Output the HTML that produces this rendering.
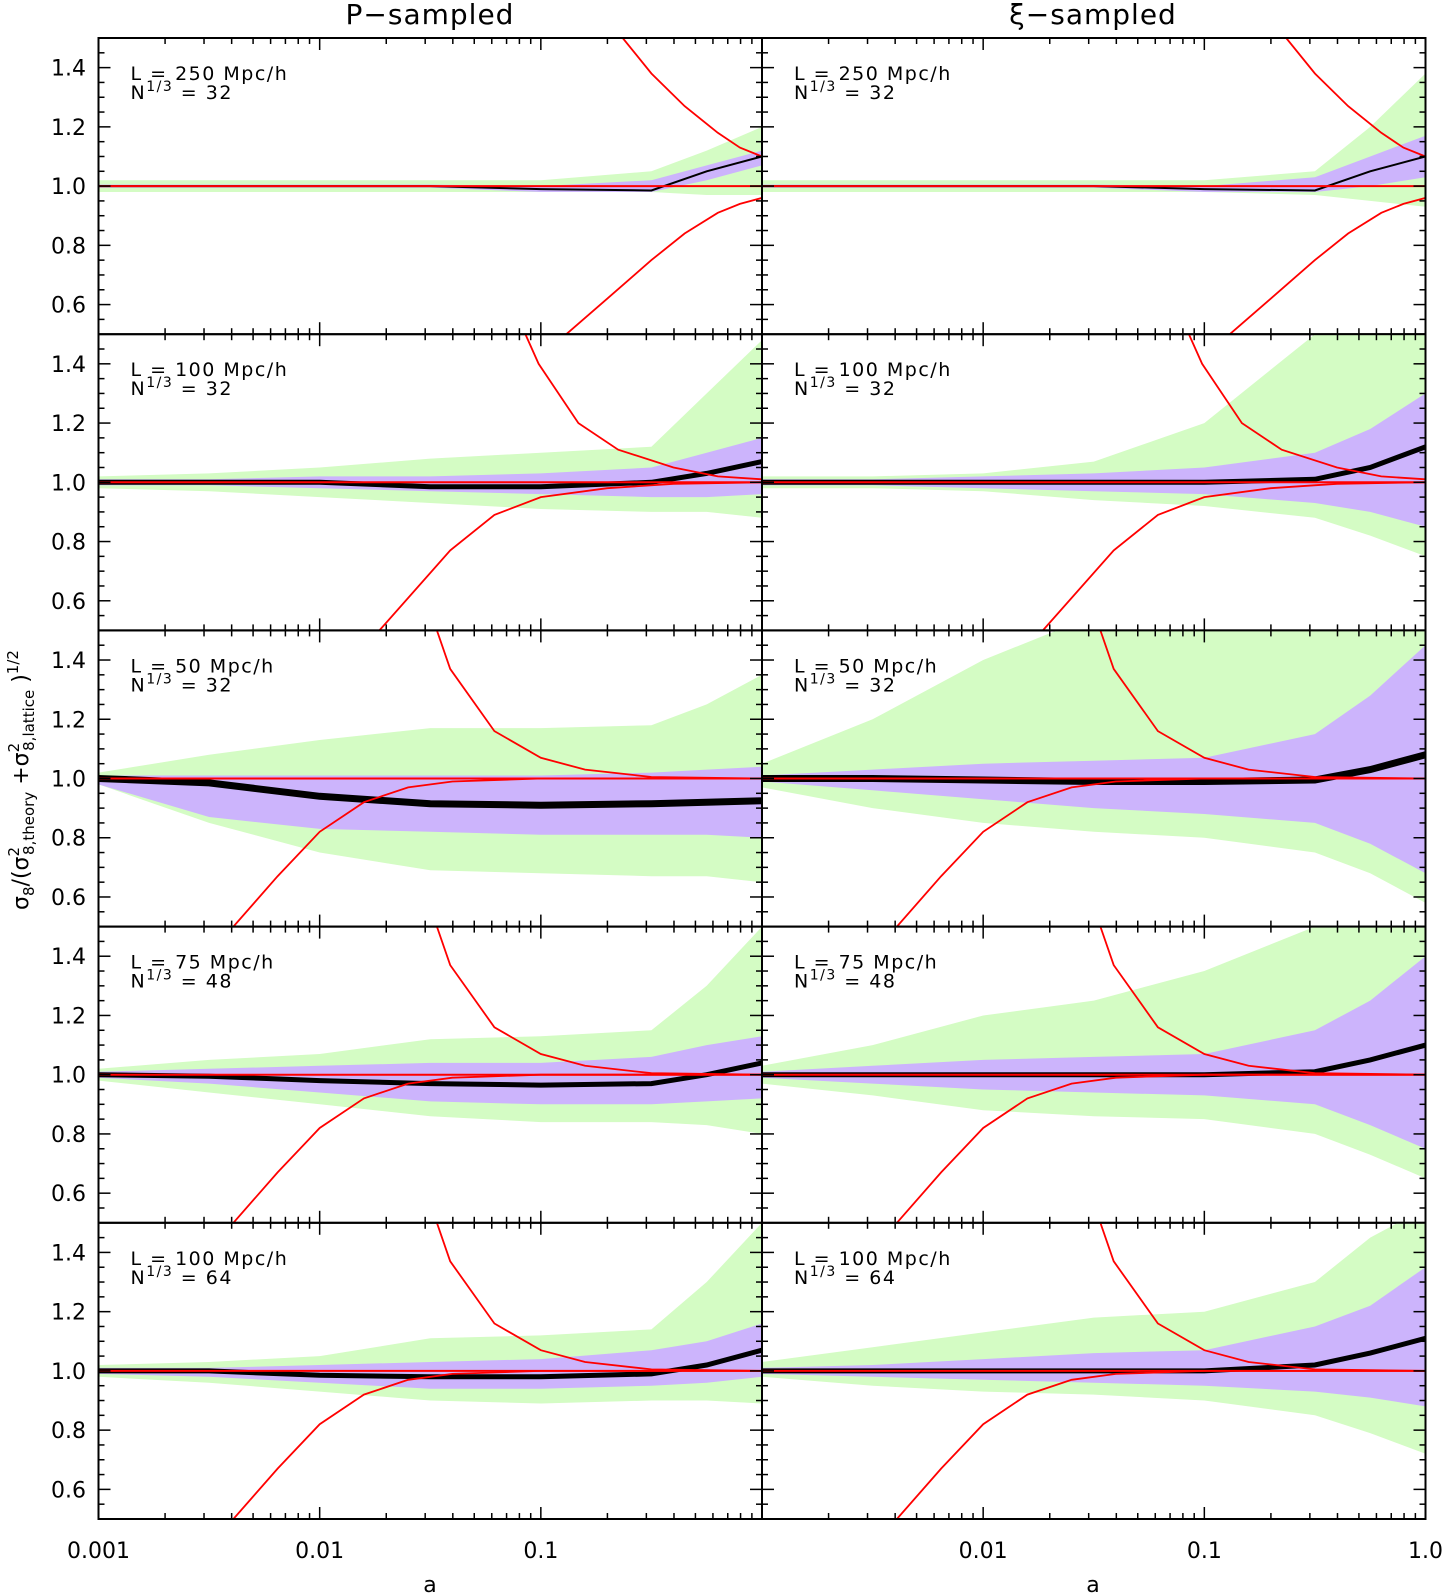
<!DOCTYPE html>
<html><head><meta charset="utf-8"><style>
body{margin:0;background:#fff}
svg{display:block;font-family:"DejaVu Sans","Liberation Sans",sans-serif}
</style></head><body>
<svg id="c" width="1443" height="1593" viewBox="0 0 1443 1593"></svg>
<script>
const logA=[-3,-2.5,-2,-1.5,-1,-0.5,-0.25,0];
const panelLabels=[["L = 250 Mpc/h","32"],["L = 100 Mpc/h","32"],["L = 50 Mpc/h","32"],["L = 75 Mpc/h","48"],["L = 100 Mpc/h","64"]];
const yTicks=[0.6,0.8,1.0,1.2,1.4];
const yTickLabels=["0.6","0.8","1.0","1.2","1.4"];
const xTicksLeft=[-3,-2,-1];
const xTickLabelsLeft=["0.001","0.01","0.1"];
const xTicksRight=[-2,-1,0];
const xTickLabelsRight=["0.01","0.1","1.0"];
// red theory curves: [logA, value]
const redUpA=[[-0.63,1.5],[-0.5,1.38],[-0.35,1.27],[-0.2,1.18],[-0.1,1.13],[0,1.1]];
const redLoA=[[-0.885,0.5],[-0.7,0.62],[-0.5,0.75],[-0.35,0.84],[-0.2,0.91],[-0.1,0.94],[0,0.96]];
const redUpB=[[-1.07,1.5],[-1.01,1.4],[-0.83,1.2],[-0.65,1.11],[-0.4,1.05],[-0.2,1.02],[0,1.01]];
const redLoB=[[-1.73,0.5],[-1.41,0.77],[-1.21,0.89],[-1.0,0.95],[-0.7,0.98],[-0.4,0.995],[0,1.0]];
const redUpC=[[-1.47,1.5],[-1.41,1.37],[-1.21,1.16],[-1.0,1.07],[-0.8,1.03],[-0.5,1.005],[0,1.0]];
const redLoC=[[-2.39,0.5],[-2.19,0.67],[-2.0,0.82],[-1.8,0.92],[-1.6,0.97],[-1.4,0.99],[-1.0,1.0],[0,1.0]];
// bands per panel (left P-sampled, right xi-sampled), values at logA
const gUpL=[[1.02,1.02,1.02,1.02,1.02,1.05,1.12,1.2],[1.02,1.03,1.05,1.08,1.1,1.12,1.3,1.48],[1.02,1.08,1.13,1.17,1.17,1.18,1.25,1.35],[1.02,1.05,1.07,1.12,1.13,1.15,1.3,1.5],[1.02,1.03,1.05,1.11,1.12,1.14,1.3,1.5]];
const gLoL=[[0.98,0.98,0.98,0.98,0.98,0.98,0.97,0.97],[0.98,0.97,0.95,0.93,0.91,0.9,0.9,0.88],[0.98,0.85,0.75,0.69,0.68,0.67,0.67,0.65],[0.98,0.94,0.9,0.86,0.84,0.84,0.83,0.8],[0.98,0.96,0.93,0.9,0.89,0.9,0.9,0.89]];
const pUpL=[[1.005,1.005,1.005,1.005,1.0,1.02,1.07,1.12],[1.01,1.01,1.02,1.02,1.03,1.05,1.1,1.15],[1.01,1.01,1.01,1.01,1.01,1.02,1.03,1.04],[1.01,1.02,1.03,1.04,1.04,1.06,1.1,1.13],[1.01,1.01,1.02,1.03,1.04,1.07,1.1,1.16]];
const pLoL=[[0.995,0.995,0.995,0.995,0.98,0.98,1.02,1.07],[0.99,0.99,0.98,0.97,0.96,0.95,0.95,0.96],[0.98,0.87,0.83,0.82,0.81,0.81,0.81,0.8],[0.99,0.97,0.94,0.91,0.9,0.9,0.91,0.92],[0.99,0.98,0.96,0.94,0.94,0.95,0.96,0.98]];
const meanL=[[1.0,1.0,1.0,1.0,0.99,0.985,1.05,1.1],[1.0,1.0,1.0,0.985,0.985,1.0,1.03,1.07],[1.0,0.985,0.94,0.915,0.91,0.915,0.92,0.925],[1.0,0.995,0.98,0.97,0.965,0.97,1.0,1.04],[1.0,1.0,0.985,0.98,0.98,0.99,1.02,1.07]];
const gUpR=[[1.02,1.02,1.02,1.02,1.02,1.05,1.2,1.38],[1.02,1.02,1.03,1.07,1.2,1.5,1.5,1.5],[1.05,1.2,1.4,1.55,1.55,1.55,1.55,1.55],[1.03,1.1,1.2,1.25,1.35,1.5,1.55,1.55],[1.03,1.08,1.13,1.18,1.2,1.3,1.45,1.55]];
const gLoR=[[0.98,0.98,0.98,0.98,0.98,0.97,0.95,0.93],[0.98,0.98,0.97,0.94,0.92,0.88,0.82,0.75],[0.97,0.9,0.85,0.82,0.8,0.75,0.68,0.58],[0.97,0.93,0.88,0.86,0.85,0.8,0.73,0.65],[0.98,0.95,0.93,0.92,0.9,0.85,0.79,0.72]];
const pUpR=[[1.005,1.005,1.005,1.005,1.0,1.03,1.1,1.17],[1.01,1.01,1.02,1.03,1.05,1.1,1.18,1.3],[1.01,1.03,1.05,1.06,1.07,1.15,1.28,1.45],[1.01,1.03,1.05,1.06,1.07,1.15,1.25,1.4],[1.01,1.02,1.04,1.06,1.07,1.15,1.22,1.35]];
const pLoR=[[0.995,0.995,0.995,0.995,0.98,0.98,1.0,1.03],[0.99,0.99,0.98,0.97,0.96,0.93,0.9,0.85],[0.99,0.96,0.93,0.9,0.88,0.85,0.78,0.68],[0.99,0.97,0.95,0.94,0.93,0.9,0.83,0.75],[0.99,0.98,0.97,0.96,0.95,0.93,0.91,0.88]];
const meanR=[[1.0,1.0,1.0,1.0,0.99,0.985,1.05,1.1],[1.0,1.0,1.0,1.0,1.0,1.01,1.05,1.12],[1.0,1.0,0.995,0.99,0.99,0.995,1.03,1.08],[1.0,1.0,1.0,1.0,1.0,1.01,1.05,1.1],[1.0,1.0,1.0,1.0,1.0,1.02,1.06,1.11]];

const NS="http://www.w3.org/2000/svg";
const svg=document.getElementById('c');
const X0=[98.5,762], PW=663.5, Y0=38, PH=296.2;
function xs(col,l){return X0[col]+(l+3)/3*PW;}
function ys(row,v){return Y0+row*PH+(1.5-v)*PH;}
function mk(tag,attrs,parent){const e=document.createElementNS(NS,tag);for(const k in attrs)e.setAttribute(k,attrs[k]);(parent||svg).appendChild(e);return e;}

for(let row=0;row<5;row++){for(let col=0;col<2;col++){
  const g=mk('g',{});
  
  
  const cid='clip'+row+'_'+col;
  const cp=mk('clipPath',{id:cid},g);
  mk('rect',{x:X0[col],y:Y0+row*PH,width:PW,height:PH},cp);
  const inner=mk('g',{'clip-path':'url(#'+cid+')'},g);
  const gU=col?gUpR:gUpL,gL=col?gLoR:gLoL,pU=col?pUpR:pUpL,pL=col?pLoR:pLoL,mn=col?meanR:meanL;
  function band(up,lo,fill,name){
    let d='M';
    logA.forEach((l,i)=>{d+=(i?'L':'')+xs(col,l).toFixed(1)+','+ys(row,up[row][i]).toFixed(1);});
    for(let i=logA.length-1;i>=0;i--)d+='L'+xs(col,logA[i]).toFixed(1)+','+ys(row,lo[row][i]).toFixed(1);
    const p=mk('path',{d:d+'Z',fill:fill},inner);
    
    
  }
  band(gU,gL,'#d4fcc4','green-band');
  band(pU,pL,'#ccb4fc','purple-band');
  const ml=mk('polyline',{points:logA.map((l,i)=>xs(col,l).toFixed(1)+','+ys(row,mn[row][i]).toFixed(1)).join(' '),fill:'none',stroke:'#000','stroke-width':row==0?2:row==2?7:5},inner);
  
  
  const ru=row==0?redUpA:row==1?redUpB:redUpC, rl=row==0?redLoA:row==1?redLoB:redLoC;
  [ru,rl].forEach((arr,k)=>{
    const r=mk('polyline',{points:arr.map(p=>xs(col,p[0]).toFixed(1)+','+ys(row,p[1]).toFixed(1)).join(' '),fill:'none',stroke:'#f00','stroke-width':1.8},inner);
    
    
  });
  const h=mk('line',{x1:X0[col],x2:X0[col]+PW,y1:ys(row,1),y2:ys(row,1),stroke:'#f00','stroke-width':2},inner);
  
  
  mk('rect',{x:X0[col],y:Y0+row*PH,width:PW,height:PH,fill:'none',stroke:'#000','stroke-width':2},g);
  for(let v=0.55;v<1.5;v+=0.05){const len=Math.round(v*100)%20==0?12:6;
    mk('line',{x1:X0[col],x2:X0[col]+len,y1:ys(row,v),y2:ys(row,v),stroke:'#000','stroke-width':1.5},g);
    mk('line',{x1:X0[col]+PW,x2:X0[col]+PW-len,y1:ys(row,v),y2:ys(row,v),stroke:'#000','stroke-width':1.5},g);}
  for(let d=-3;d<0;d++){for(let m=1;m<10;m++){const l=d+Math.log10(m);const len=m==1?12:6;const x=xs(col,l);
    mk('line',{x1:x,x2:x,y1:Y0+row*PH,y2:Y0+row*PH+len,stroke:'#000','stroke-width':1.5},g);
    mk('line',{x1:x,x2:x,y1:Y0+(row+1)*PH,y2:Y0+(row+1)*PH-len,stroke:'#000','stroke-width':1.5},g);}}
  const t1=mk('text',{x:X0[col]+32,y:Y0+row*PH+42,'font-size':19,'letter-spacing':'1.5'},g);t1.textContent=panelLabels[row][0];
  
  const t2=mk('text',{x:X0[col]+32,y:Y0+row*PH+61,'font-size':19,'letter-spacing':'1.5'},g);
  
  t2.innerHTML='N<tspan font-size="14" dy="-8">1/3</tspan><tspan dy="8"> = '+panelLabels[row][1]+'</tspan>';
}
  yTicks.forEach((v,i)=>{const t=mk('text',{x:86,y:ys(row,v)+8,'font-size':22,'text-anchor':'end'});t.textContent=yTickLabels[i];
    });
}
xTicksLeft.forEach((l,i)=>{const t=mk('text',{x:xs(0,l),y:1558,'font-size':22,'text-anchor':'middle'});t.textContent=xTickLabelsLeft[i];
  });
xTicksRight.forEach((l,i)=>{const t=mk('text',{x:xs(1,l),y:1558,'font-size':22,'text-anchor':'middle'});t.textContent=xTickLabelsRight[i];
  });
</script>
<div style="position:absolute;left:0;top:0;width:1443px;height:1593px;pointer-events:none">
<svg width="1443" height="1593" style="position:absolute;left:0;top:0;font-family:'DejaVu Sans','Liberation Sans',sans-serif">
<text x="430" y="24" font-size="28" text-anchor="middle" letter-spacing="1">P−sampled</text>
<text x="1093" y="24" font-size="28" text-anchor="middle" letter-spacing="1">ξ−sampled</text>
<text x="430" y="1592" font-size="22" text-anchor="middle">a</text>
<text x="1093" y="1592" font-size="22" text-anchor="middle">a</text>
<text transform="translate(28,780) rotate(-90)" font-size="22" text-anchor="middle">σ<tspan font-size="15" dy="6">8</tspan><tspan dy="-6">/(σ</tspan><tspan font-size="15" dy="-9">2</tspan><tspan font-size="15" dx="-8" dy="15">8,theory</tspan><tspan dy="-6"> +σ</tspan><tspan font-size="15" dy="-9">2</tspan><tspan font-size="15" dx="-8" dy="15">8,lattice</tspan><tspan dy="-6">    )</tspan><tspan font-size="15" dy="-10">1/2</tspan></text>
</svg></div>
</body></html>
